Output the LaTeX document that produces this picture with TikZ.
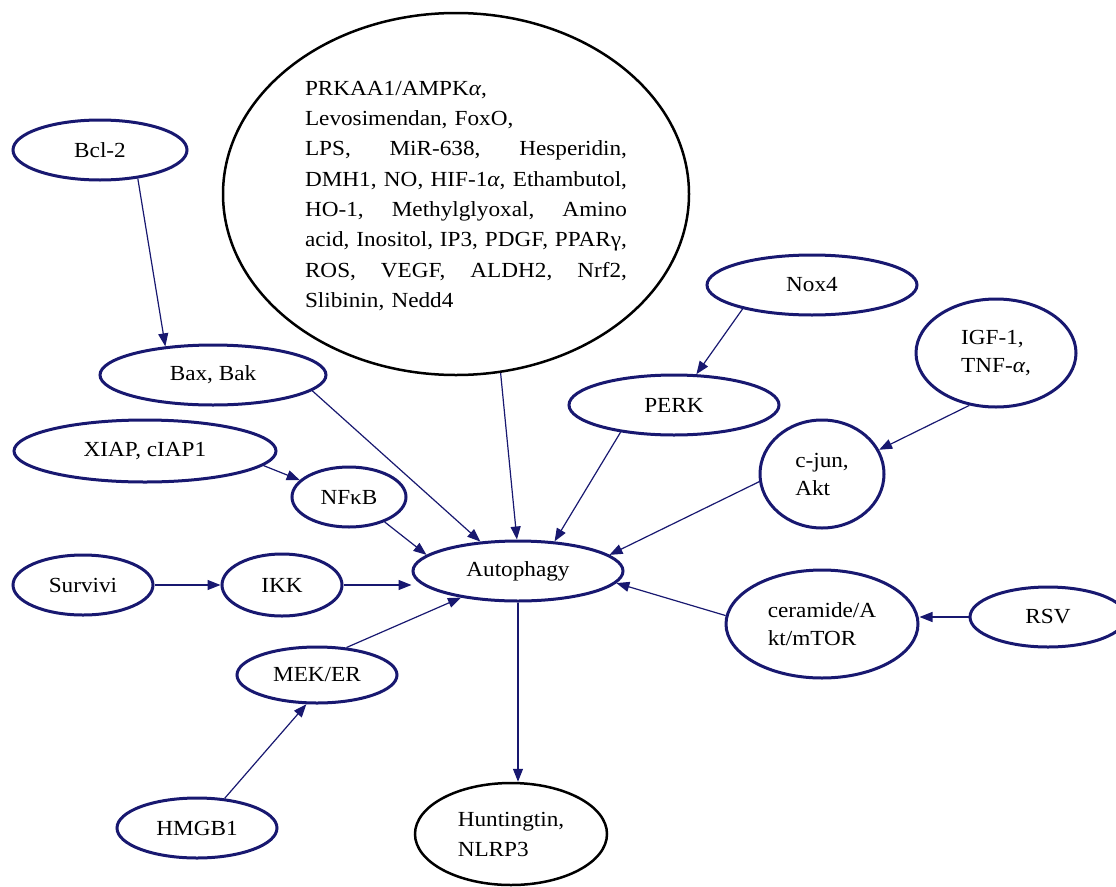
\documentclass[tikz,border=0pt]{standalone}
\usepackage{fontspec}
\setmainfont{Liberation Serif}[FakeStretch=1.08]
\usetikzlibrary{arrows.meta,shapes.geometric}
\definecolor{navy}{RGB}{24,24,112}
\newcommand{\jl}[1]{\leavevmode\hbox to 322pt{#1}}
\newcommand{\ita}{\textit{α}}
\begin{document}
\begin{tikzpicture}[x=1pt,y=-1pt,
  bub/.style={ellipse, draw=navy, line width=3pt, inner sep=0pt, text=black,
    font=\fontsize{21.5}{28}\selectfont, align=left},
  blk/.style={bub, draw=black, line width=2.5pt},
  ar/.style={draw=navy, line width=1.2pt, -{Triangle[length=13pt,width=10pt]}},
]
\useasboundingbox (0,0) rectangle (1116,886);

% big ellipse and its text
\node[blk, minimum width=466pt, minimum height=362pt] (big) at (456,194) {};
\node[inner sep=0pt, text width=322pt, align=left, text=black,
  font=\fontsize{21.5}{30.3}\selectfont] (bigtxt) at (466,196)
  {PRKAA1/AMPK\ita,\\
   Levosimendan, FoxO,\\
   \jl{LPS,\hfill MiR-638,\hfill Hesperidin,}\\
   \jl{DMH1,\hfill NO,\hfill HIF-1\ita,\hfill Ethambutol,}\\
   \jl{HO-1,\hfill Methylglyoxal,\hfill Amino}\\
   \jl{acid,\hfill Inositol,\hfill IP3,\hfill PDGF,\hfill PPARγ,}\\
   \jl{ROS,\hfill VEGF,\hfill ALDH2,\hfill Nrf2,}\\
   Slibinin, Nedd4};

\node[bub, minimum width=174pt, minimum height=60pt] (bcl) at (100,150) {Bcl-2};
\node[bub, minimum width=226pt, minimum height=60pt] (bax) at (213,375) {Bax, Bak};
\node[bub, minimum width=262pt, minimum height=62pt] (xiap) at (145,451) {XIAP, cIAP1};
\node[bub, minimum width=114pt, minimum height=60pt] (nfkb) at (349,497) {NFκB};
\node[bub, minimum width=140pt, minimum height=60pt] (surv) at (83,585) {Survivi};
\node[bub, minimum width=120pt, minimum height=62pt] (ikk) at (282,585) {IKK};
\node[bub, minimum width=210pt, minimum height=60pt] (auto) at (518,571) {Autophagy};
\node[bub, minimum width=160pt, minimum height=56pt] (mek) at (317,675) {MEK/ER};
\node[bub, minimum width=160pt, minimum height=60pt] (hmgb) at (197,828) {HMGB1};
\node[blk, minimum width=192pt, minimum height=102pt, font=\fontsize{21.5}{30}\selectfont] (hunt) at (511,834) {Huntingtin,\\NLRP3};
\node[bub, minimum width=210pt, minimum height=60pt] (nox) at (812,285) {Nox4};
\node[bub, minimum width=210pt, minimum height=60pt] (perk) at (674,405) {PERK};
\node[bub, minimum width=160pt, minimum height=108pt] (igf) at (996,353) {IGF-1,\\TNF-\ita,};
\node[bub, minimum width=124pt, minimum height=108pt] (cjun) at (822,474) {c-jun,\\Akt};
\node[bub, minimum width=192pt, minimum height=108pt] (cer) at (822,624) {ceramide/A\\kt/mTOR};
\node[bub, minimum width=156pt, minimum height=60pt] (rsv) at (1048,617) {RSV};

% connectors
\draw[ar] (bcl.-37) -- (bax.149);
\draw[ar] (bax.-9) -- (auto.142);
\draw[ar] (big.-76) -- (auto.92);
\draw[ar] (nox.-161) -- (perk.54);
\draw[ar] (perk.-153) -- (auto.39);
\draw[ar] (igf.-117) -- (cjun.23);
\draw[ar] (cjun.-173) -- (auto.10);
\draw[ar] (xiap.-7) -- (nfkb.161);
\draw[ar] (nfkb.-35) -- (auto.170);
\draw[ar] (surv.east) -- (ikk.west);
\draw[ar] (ikk.east) -- (ikk.east -| auto.west);
\draw[ar] (mek.43) -- (auto.-155);
\draw[ar] (hmgb.47) -- (mek.-110);
\draw[ar] (auto.south) -- (auto.south |- hunt.north);
\draw[ar] (cer.175) -- (auto.-7);
\draw[ar] (rsv.west) -- (rsv.west -| cer.east);
\end{tikzpicture}
\end{document}
